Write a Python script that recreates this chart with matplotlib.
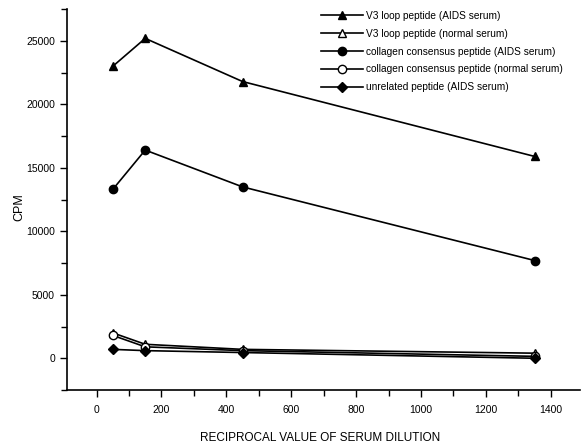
import numpy as np
import matplotlib.pyplot as plt

plt.rcParams['font.family'] = ['Liberation Sans', 'DejaVu Sans']

dilution = [50, 150, 450, 1350]
v3_aids = [23000, 25200, 21800, 15900]
v3_normal = [2000, 1100, 700, 400]
coll_aids = [13300, 16400, 13500, 7700]
coll_normal = [1800, 900, 600, 150]
unrel_aids = [700, 600, 450, 0]

fig = plt.figure(figsize=(5.82, 4.48), dpi=100)
ax = fig.add_axes([0.1146, 0.1295, 0.882, 0.850])

ax.plot(dilution, v3_aids, 'k-', marker='^', ms=6, lw=1.2, label='V3 loop peptide (AIDS serum)')
ax.plot(dilution, v3_normal, 'k-', marker='^', mfc='white', ms=6, lw=1.2, label='V3 loop peptide (normal serum)')
ax.plot(dilution, coll_aids, 'k-', marker='o', ms=6, lw=1.2, label='collagen consensus peptide (AIDS serum)')
ax.plot(dilution, coll_normal, 'k-', marker='o', mfc='white', ms=6, lw=1.2, label='collagen consensus peptide (normal serum)')
ax.plot(dilution, unrel_aids, 'k-', marker='D', ms=5, lw=1.2, label='unrelated peptide (AIDS serum)')

ax.set_xlim(-92, 1490)
ax.set_ylim(-2500, 27500)
ax.set_xticks(np.arange(0, 1401, 200))
ax.set_xticks(np.arange(-0, 1401, 100), minor=True)
ax.set_yticks(np.arange(0, 25001, 5000))
ax.set_yticks(np.arange(-2500, 27501, 2500), minor=True)
ax.tick_params(which='major', direction='out', length=5, width=1, labelsize=7.5)
ax.tick_params(axis='x', which='major', pad=5.5)
ax.tick_params(which='minor', direction='out', length=4, width=1)
ax.spines['top'].set_visible(False)
ax.spines['right'].set_visible(False)
ax.spines['left'].set_linewidth(1.2)
ax.spines['bottom'].set_linewidth(1.2)

fig.text(19 / 582, 1 - 207 / 448, 'CPM', fontsize=9, rotation=90, ha='center', va='center')
fig.text(0.55, 1 - 438 / 448, 'RECIPROCAL VALUE OF SERUM DILUTION', fontsize=8.5,
         ha='center', va='center')

ax.legend(loc='upper right', bbox_to_anchor=(0.985, 1.02), frameon=False, fontsize=7.3,
          handlelength=4.2, handletextpad=0.3, labelspacing=0.78)

plt.savefig('out.png', dpi=100)
